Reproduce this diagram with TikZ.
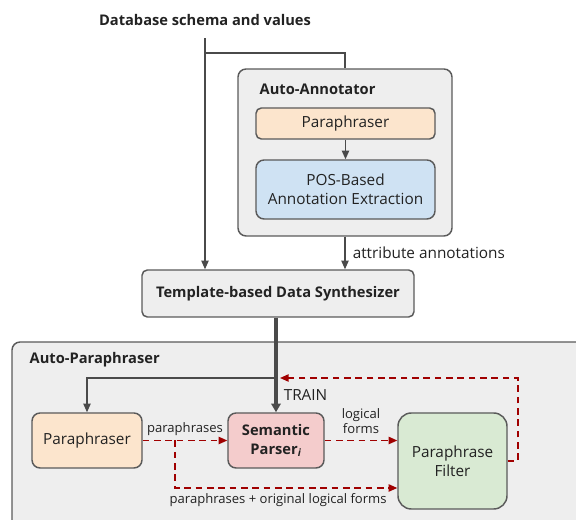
\documentclass[tikz,border=0pt]{standalone}
\usepackage{fontspec}
\setmainfont{Open Sans}
\usetikzlibrary{arrows.meta}
\usepackage{xcolor}
\definecolor{panelgray}{HTML}{EEEEEE}
\definecolor{edgegray}{HTML}{5A5A5A}
\definecolor{linegray}{HTML}{4A4A4A}
\definecolor{textdark}{HTML}{222222}
\definecolor{peach}{HTML}{FCE5CD}
\definecolor{skyblue}{HTML}{CFE2F3}
\definecolor{rosepink}{HTML}{F4CCCC}
\definecolor{mintgreen}{HTML}{D9EAD3}
\definecolor{loopred}{HTML}{A00000}

\begin{document}
\begin{tikzpicture}[x=0.75pt,y=-0.75pt,
    font=\fontsize{11.5}{14}\selectfont, text=textdark,
    box/.style={draw=edgegray, line width=1.1pt, rounded corners=4pt,
      align=center, inner sep=0pt},
    title/.style={font=\fontsize{11}{13.5}\selectfont\bfseries},
    lbl/.style={font=\fontsize{9.8}{11.8}\selectfont, align=center, text=textdark},
    flow/.style={draw=linegray, line width=1pt,
      -{Triangle[length=6.5pt,width=5.5pt]}},
    loop/.style={draw=loopred, line width=1.1pt, dash pattern=on 5pt off 3.5pt,
      -{Triangle[length=6.5pt,width=5.5pt]}}]
\useasboundingbox (0,0) rectangle (576,520);
\clip (0,0) rectangle (576,520);

% input
\node[title] (db) at (205,20) {Database schema and values};

% auto-annotator
\node[box, fill=panelgray, rounded corners=6pt,
  minimum width=160.5pt, minimum height=125.25pt] (autoann) at (345,152.5) {};
\node[title, anchor=west] (aalbl) at (255,89) {Auto-Annotator};
\node[box, fill=peach, minimum width=134.25pt, minimum height=23.25pt]
  (para1) at (345.5,123.5) {Paraphraser};
\node[box, fill=skyblue, rounded corners=6pt,
  minimum width=134.25pt, minimum height=44.25pt]
  (posx) at (345.5,189.5) {POS-Based\\Annotation Extraction};

% synthesizer
\node[box, fill=panelgray, font=\fontsize{11}{13.5}\selectfont\bfseries,
  minimum width=204pt, minimum height=35.25pt] (tmpl) at (278,293.5)
  {Template-based Data Synthesizer};

% auto-paraphraser
\draw[edgegray, line width=1.1pt, fill=panelgray, rounded corners=6pt]
  (12,342) rectangle (600,560);
\node[title, anchor=west] (aplbl) at (25,360) {Auto-Paraphraser};
\node[box, fill=peach, rounded corners=6pt,
  minimum width=82.5pt, minimum height=41.25pt] (para2) at (87,440.5) {Paraphraser};
\node[box, fill=rosepink, rounded corners=6pt, font=\fontsize{11}{14}\selectfont\bfseries,
  minimum width=72pt, minimum height=41.25pt] (sem) at (276,440.5)
  {Semantic\\Parser\textsubscript{\itshape i}};
\node[box, fill=mintgreen, rounded corners=10pt,
  minimum width=81.75pt, minimum height=72pt] (filt) at (452.5,461)
  {Paraphrase\\Filter};

\coordinate (split) at (205,53);
\coordinate (tap) at (276,378);
\coordinate (fork) at (175,440.5);
\coordinate (low) at (175,488);
\coordinate (rc) at (518,378);
\coordinate (ret) at (280,378);

% connectors
\draw[flow] ([yshift=-6pt]db.south) -- (db.south |- tmpl.north);
\draw[linegray, line width=1pt] (split) -| (autoann.north);
\draw[flow] (para1) -- (posx);
\draw[flow] (autoann.south) -- (autoann.south |- tmpl.north)
  node[midway, right, xshift=2pt, text=textdark] {attribute annotations};
\draw[draw=linegray, line width=3pt, -{Triangle[length=6.5pt,width=7pt]}]
  (sem.north |- tmpl.south) -- (sem.north)
  node[pos=0.82, right, xshift=1pt, text=textdark] {TRAIN};
\draw[flow] (tap) -| (para2.north);

\draw[loop] (para2.east) -- (sem.west) node[midway, above, lbl] {paraphrases};
\draw[loop] (fork) |- (filt.west |- low)
  node[pos=0.75, below, lbl, xshift=-6pt] {paraphrases + original logical forms};
\draw[loop] (sem.east) -- (filt.west |- sem.east)
  node[midway, above, lbl, yshift=1pt] {logical\\forms};
\draw[loop] (filt.east) -| (rc) -- (ret);
\end{tikzpicture}
\end{document}
